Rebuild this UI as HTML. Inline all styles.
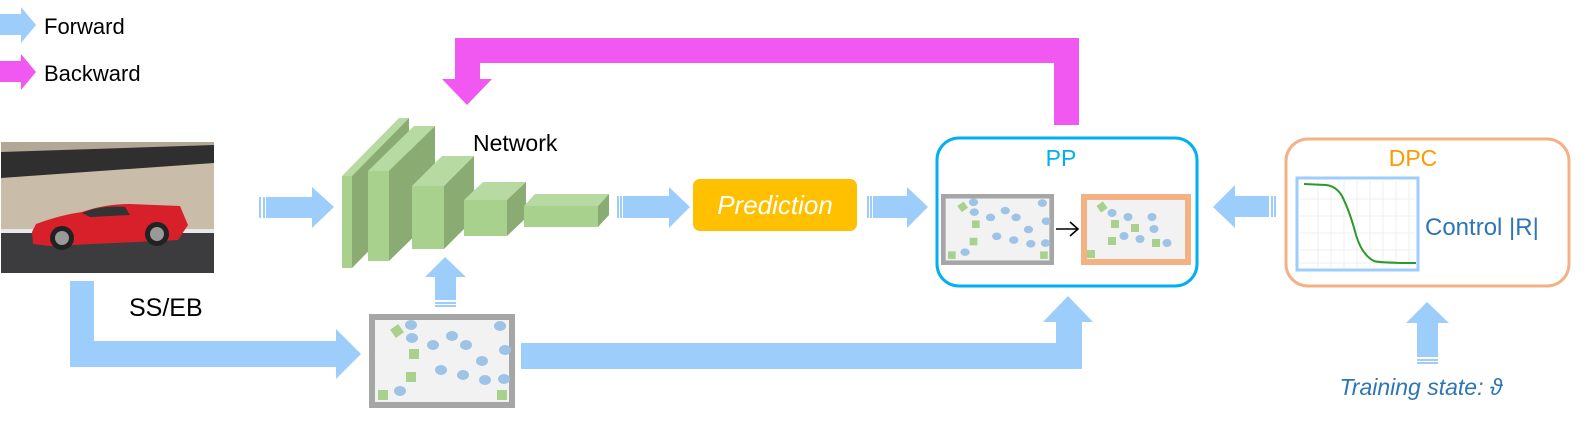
<!DOCTYPE html>
<html><head><meta charset="utf-8"><style>
html,body{margin:0;padding:0;background:#fff;}
svg{display:block;}
text{font-family:"Liberation Sans",sans-serif;}
</style></head><body>
<svg width="1587" height="423" viewBox="0 0 1587 423" xmlns="http://www.w3.org/2000/svg">
<defs>
<g id="prop">
  <rect x="3" y="3" width="140" height="88" fill="#f2f2f2" stroke="#a6a6a6" stroke-width="6"/>
  <g fill="#9dc3e6">
    <ellipse cx="42" cy="11" rx="6" ry="5"/><ellipse cx="43" cy="24" rx="6" ry="5"/>
    <ellipse cx="64" cy="31" rx="6" ry="5"/><ellipse cx="83" cy="22" rx="6" ry="5"/>
    <ellipse cx="97" cy="31" rx="6" ry="5"/><ellipse cx="131" cy="12" rx="6" ry="5"/>
    <ellipse cx="136" cy="36" rx="6" ry="5"/><ellipse cx="113" cy="47" rx="6" ry="5"/>
    <ellipse cx="72" cy="56" rx="6" ry="5"/><ellipse cx="94" cy="61" rx="6" ry="5"/>
    <ellipse cx="116" cy="66" rx="6" ry="5"/><ellipse cx="135" cy="65" rx="6" ry="5"/>
    <ellipse cx="31" cy="77" rx="6" ry="5"/>
  </g>
  <g fill="#a9d18e">
    <rect x="40" y="35" width="10" height="10"/><rect x="37" y="58" width="10" height="10"/>
    <rect x="9" y="76" width="10" height="10"/><rect x="128" y="76" width="10" height="10"/>
    <rect x="23" y="12" width="10" height="10" transform="rotate(-35 28 17)"/>
  </g>
</g>
</defs>

<!-- legend -->
<polygon points="0,14 21,14 21,7 36,25 21,43 21,35 0,35" fill="#9dcdfb"/>
<text x="44" y="34" font-size="22">Forward</text>
<polygon points="0,61 21,61 21,54 36,72 21,90 21,82 0,82" fill="#f158f1"/>
<text x="44" y="81" font-size="22">Backward</text>

<!-- magenta backward -->
<polygon points="1054,125 1079,125 1079,38 455,38 455,79 442,79 467,105 492,79 480,79 480,63 1054,63" fill="#f158f1"/>

<!-- car image -->
<rect x="1" y="142" width="213" height="131" fill="#c9bda9"/>
<polygon points="1,142 214,142 214,150 1,155" fill="#b3a896"/>
<polygon points="1,152 214,145 214,163 1,178" fill="#2f2f2f"/>
<rect x="1" y="229" width="213" height="4" fill="#e8e8e8"/>
<rect x="1" y="233" width="213" height="40" fill="#3c3c3e"/>
<path d="M32,232 L36,224 Q60,215 82,212 Q105,204 130,204 L180,206 L188,225 L178,240 L50,246 L33,244 Z" fill="#d8202a"/>
<circle cx="62" cy="238" r="12" fill="#222"/><circle cx="62" cy="238" r="7" fill="#999"/>
<circle cx="157" cy="234" r="12" fill="#222"/><circle cx="157" cy="234" r="7" fill="#999"/>
<path d="M82,213 Q100,205 125,207 L130,215 L90,217 Z" fill="#333"/>

<!-- arrow image -> network -->
<polygon points="266,197 312,197 312,187 334,207 312,228 312,218 266,218" fill="#9dcdfb"/>
<rect x="259" y="197" width="2" height="21" fill="#9dcdfb"/><rect x="263" y="197" width="2" height="21" fill="#9dcdfb"/>

<!-- network blocks -->
<g>
  <polygon points="342,176 399,118 409,118 352,176" fill="#b7d9a2"/>
  <polygon points="352,176 409,118 409,210 352,268" fill="#8aab72"/>
  <rect x="342" y="176" width="10" height="92" fill="#a9d18e"/>

  <polygon points="368,171 414,126 435,126 389,171" fill="#b7d9a2"/>
  <polygon points="389,171 435,126 435,216 389,261" fill="#8aab72"/>
  <rect x="368" y="171" width="21" height="90" fill="#a9d18e"/>

  <polygon points="412,186 442,156 474,156 444,186" fill="#b7d9a2"/>
  <polygon points="444,186 474,156 474,219 444,249" fill="#8aab72"/>
  <rect x="412" y="186" width="32" height="63" fill="#a9d18e"/>

  <polygon points="464,200 483,182 526,182 507,200" fill="#b7d9a2"/>
  <polygon points="507,200 526,182 526,218 507,236" fill="#8aab72"/>
  <rect x="464" y="200" width="43" height="36" fill="#a9d18e"/>

  <polygon points="524,206 535,194 609,194 598,206" fill="#b7d9a2"/>
  <polygon points="598,206 609,194 609,215 598,227" fill="#8aab72"/>
  <rect x="524" y="206" width="74" height="21" fill="#a9d18e"/>
</g>
<text x="473" y="151" font-size="23">Network</text>

<!-- arrow network -> prediction -->
<polygon points="623,196 669,196 669,187 690,207 669,228 669,218 623,218" fill="#9dcdfb"/>
<rect x="617" y="196" width="2" height="22" fill="#9dcdfb"/><rect x="620" y="196" width="2" height="22" fill="#9dcdfb"/>

<rect x="693" y="179" width="164" height="52" rx="7" fill="#ffc000"/>
<text x="775" y="214" font-size="26" font-style="italic" fill="#fff" text-anchor="middle">Prediction</text>

<!-- arrow prediction -> PP -->
<polygon points="873,196 907,196 907,187 928,207 907,228 907,218 873,218" fill="#9dcdfb"/>
<rect x="867" y="196" width="2" height="22" fill="#9dcdfb"/><rect x="870" y="196" width="2" height="22" fill="#9dcdfb"/>

<!-- PP box -->
<rect x="937" y="138" width="260" height="148" rx="22" fill="none" stroke="#00b0f0" stroke-width="3"/>
<text x="1061" y="166" font-size="23" fill="#00b0f0" text-anchor="middle">PP</text>
<g transform="translate(941,194) scale(0.774,0.755)"><use href="#prop"/></g>
<rect x="1084" y="197" width="104" height="65" fill="#f2f2f2" stroke="#f4b183" stroke-width="6"/>
<g fill="#9dc3e6">
  <ellipse cx="1112" cy="213" rx="4.5" ry="4"/><ellipse cx="1128" cy="217" rx="4.5" ry="4"/>
  <ellipse cx="1152" cy="217" rx="4.5" ry="4"/><ellipse cx="1154" cy="229" rx="4.5" ry="4"/>
  <ellipse cx="1124" cy="236" rx="4.5" ry="4"/><ellipse cx="1140" cy="239" rx="4.5" ry="4"/>
  <ellipse cx="1167" cy="243" rx="4.5" ry="4"/>
</g>
<g fill="#a9d18e">
  <rect x="1111" y="220" width="8" height="8"/><rect x="1131" y="224" width="8" height="8"/>
  <rect x="1108" y="237" width="8" height="8"/><rect x="1152" y="239" width="8" height="8"/>
  <rect x="1087" y="250" width="8" height="8"/>
  <rect x="1098" y="203" width="8" height="8" transform="rotate(-35 1102 207)"/>
</g>
<line x1="1056" y1="229" x2="1078" y2="229" stroke="#000" stroke-width="1.6"/>
<polyline points="1070,222 1078,229 1070,236" fill="none" stroke="#000" stroke-width="1.6"/>

<!-- arrow DPC -> PP -->
<polygon points="1269,196 1235,196 1235,185 1213,207 1235,228 1235,217 1269,217" fill="#9dcdfb"/>
<rect x="1271" y="196" width="2" height="21" fill="#9dcdfb"/><rect x="1274" y="196" width="2" height="21" fill="#9dcdfb"/>

<!-- DPC box -->
<rect x="1286" y="139" width="283" height="147" rx="22" fill="none" stroke="#f4b183" stroke-width="3"/>
<text x="1413" y="166" font-size="23" fill="#ff9900" text-anchor="middle">DPC</text>
<rect x="1297" y="178" width="121" height="92" fill="#fff" stroke="#9dcdfb" stroke-width="3"/>
<g stroke="#efefef" stroke-width="1">
  <line x1="1318" y1="181" x2="1318" y2="267"/><line x1="1331" y1="181" x2="1331" y2="267"/>
  <line x1="1344" y1="181" x2="1344" y2="267"/><line x1="1357" y1="181" x2="1357" y2="267"/>
  <line x1="1370" y1="181" x2="1370" y2="267"/><line x1="1383" y1="181" x2="1383" y2="267"/>
  <line x1="1396" y1="181" x2="1396" y2="267"/><line x1="1409" y1="181" x2="1409" y2="267"/>
  <line x1="1300" y1="199" x2="1415" y2="199"/><line x1="1300" y1="216" x2="1415" y2="216"/>
  <line x1="1300" y1="233" x2="1415" y2="233"/><line x1="1300" y1="250" x2="1415" y2="250"/>
  <line x1="1300" y1="263" x2="1415" y2="263"/>
</g>
<path d="M1304,184 L1326,185 Q1336,186 1342,196 Q1350,212 1356,235 Q1362,255 1374,261 Q1380,263 1416,263" fill="none" stroke="#2a9a2a" stroke-width="2"/>
<text x="1425" y="235" font-size="24" fill="#2e75b6">Control |R|</text>

<!-- DPC up arrow -->
<polygon points="1417,357 1417,323 1406,323 1427,302 1449,323 1438,323 1438,357" fill="#9dcdfb"/>
<rect x="1417" y="359" width="21" height="2" fill="#9dcdfb"/><rect x="1417" y="362" width="21" height="2" fill="#9dcdfb"/>
<text x="1421" y="395" font-size="23" font-style="italic" fill="#2e75b6" text-anchor="middle" font-family="Liberation Sans, DejaVu Sans, sans-serif">Training state: ϑ</text>

<!-- SS/EB path -->
<polygon points="70,281 94,281 94,341 336,341 336,329 361,354 336,379 336,367 70,367" fill="#9dcdfb"/>
<text x="129" y="316" font-size="25">SS/EB</text>

<!-- bottom proposal box -->
<g transform="translate(369,314)"><use href="#prop"/></g>

<!-- up arrow box -> network -->
<polygon points="435,300 435,277 425,277 445,257 466,277 456,277 456,300" fill="#9dcdfb"/>
<rect x="435" y="302" width="21" height="2" fill="#9dcdfb"/><rect x="435" y="305" width="21" height="2" fill="#9dcdfb"/>

<!-- bottom bar to PP -->
<polygon points="521,343 1056,343 1056,322 1043,322 1068,296 1093,322 1082,322 1082,369 521,369" fill="#9dcdfb"/>
</svg>
</body></html>
